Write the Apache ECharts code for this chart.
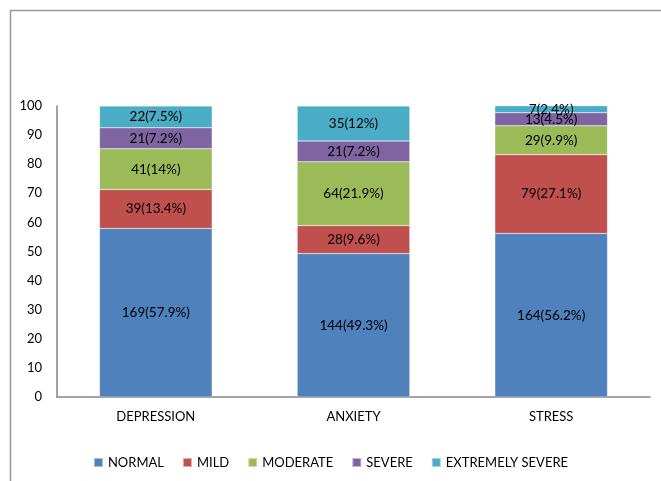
<!DOCTYPE html>
<html><head><meta charset="utf-8">
<script src="https://cdn.jsdelivr.net/npm/echarts@6/dist/echarts.min.js"></script>
<style>html,body{margin:0;padding:0;background:#fff}#c{width:661px;height:481px}</style>
</head><body><div id="c"></div>
<script>
const categories = ['DEPRESSION', 'ANXIETY', 'STRESS'];
const seriesNames = ['NORMAL', 'MILD', 'MODERATE', 'SEVERE', 'EXTREMELY SEVERE'];
const normalCount = [169, 144, 164];
const normalPct = [57.9, 49.3, 56.2];
const mildCount = [39, 28, 79];
const mildPct = [13.4, 9.6, 27.1];
const moderateCount = [41, 64, 29];
const moderatePct = [14, 21.9, 9.9];
const severeCount = [21, 21, 13];
const severePct = [7.2, 7.2, 4.5];
const extremeCount = [22, 35, 7];
const extremePct = [7.5, 12, 2.4];
const yTicks = [0, 10, 20, 30, 40, 50, 60, 70, 80, 90, 100];
const colors = ['#4F81BD', '#C0504D', '#9BBB59', '#8064A2', '#4BACC6'];

const counts = [normalCount, mildCount, moderateCount, severeCount, extremeCount];
const pcts = [normalPct, mildPct, moderatePct, severePct, extremePct];
const font = 'Lato, "Open Sans", sans-serif';

const chart = echarts.init(document.getElementById('c'), null, {renderer: 'canvas'});
chart.setOption({
  animation: false,
  textStyle: {fontFamily: font},
  graphic: [{
    type: 'rect', left: 8, top: 8, z: -10,
    shape: {width: 700, height: 520},
    style: {fill: 'none', stroke: '#999', lineWidth: 1.5}
  }],
  legend: {
    data: seriesNames,
    bottom: 7, left: 'center',
    itemWidth: 9, itemHeight: 9, itemGap: 18,
    icon: 'rect',
    textStyle: {fontSize: 13, color: '#000', fontFamily: font}
  },
  grid: {left: 57, right: 11, top: 106, bottom: 84, containLabel: false},
  xAxis: {
    type: 'category', data: categories,
    axisLine: {lineStyle: {color: '#868686', width: 1.5}},
    axisTick: {show: false},
    axisLabel: {fontSize: 13, color: '#000', margin: 13, fontFamily: font}
  },
  yAxis: {
    type: 'value', min: yTicks[0], max: yTicks[yTicks.length - 1], interval: 10,
    axisLine: {show: true, lineStyle: {color: '#868686', width: 1.5}},
    axisTick: {show: false},
    splitLine: {show: false},
    axisLabel: {fontSize: 13, color: '#000', margin: 15, fontFamily: font}
  },
  series: seriesNames.map((name, i) => ({
    name: name, type: 'bar', stack: 'total', barWidth: '57%',
    itemStyle: {color: colors[i], borderColor: 'rgba(255,255,255,0.5)', borderWidth: 0.5},
    label: {
      show: true, position: 'inside', color: '#000', fontSize: 13.5, fontFamily: font,
      formatter: p => counts[i][p.dataIndex] + '(' + pcts[i][p.dataIndex] + '%)'
    },
    data: pcts[i]
  }))
});
</script></body></html>
